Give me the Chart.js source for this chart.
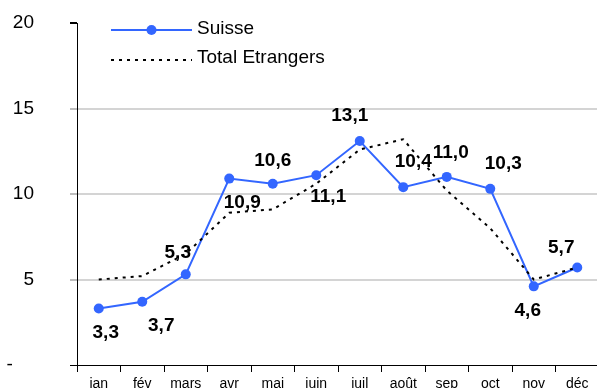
<!DOCTYPE html>
<html>
<head>
<meta charset="utf-8">
<script src="https://cdn.jsdelivr.net/npm/chart.js@4/dist/chart.umd.min.js"></script>
<style>
  html, body { margin: 0; padding: 0; background: #fff; overflow: hidden; }
  canvas { display: block; }
</style>
</head>
<body>
<canvas id="chart" width="604" height="388"></canvas>
<script>
const months = ['jan', 'fév', 'mars', 'avr', 'mai', 'juin', 'juil', 'août', 'sep', 'oct', 'nov', 'déc'];
const suisse = [3.3, 3.7, 5.3, 10.9, 10.6, 11.1, 13.1, 10.4, 11.0, 10.3, 4.6, 5.7];
const etrangers = [5.0, 5.2, 6.5, 8.9, 9.1, 10.6, 12.6, 13.2, 10.2, 8.0, 5.0, 5.7];
const seriesNames = ['Suisse', 'Total Etrangers'];

// where each value label sits relative to its marker (dx, dy in px)
const labelOffsets = [[7, 24], [19, 24], [-8, -22], [13, 24], [0, -23], [12, 22],
                      [-10, -25], [10, -25], [4, -24], [13, -25], [-6, 24], [-16, -20]];

const FONT = "'Liberation Sans', Arial, sans-serif";
const BLUE = '#3366ff';

// bold value labels on the Suisse series
const valueLabels = {
    id: 'valueLabels',
    afterDatasetsDraw(chart) {
        const ctx = chart.ctx;
        const meta = chart.getDatasetMeta(0);
        const data = chart.data.datasets[0].data;
        ctx.save();
        ctx.font = 'bold 19px ' + FONT;
        ctx.fillStyle = '#000';
        ctx.textAlign = 'center';
        ctx.textBaseline = 'middle';
        meta.data.forEach((pt, i) => {
            const off = labelOffsets[i];
            ctx.fillText(data[i].toFixed(1).replace('.', ','), pt.x + off[0], pt.y + off[1]);
        });
        ctx.restore();
    }
};

// legend drawn by hand: line with a marker in the middle, dotted line
const lineLegend = {
    id: 'lineLegend',
    afterDraw(chart) {
        const ctx = chart.ctx;
        const x0 = 111, x1 = 192, tx = 197;
        ctx.save();
        ctx.font = '19px ' + FONT;
        ctx.textBaseline = 'middle';

        ctx.strokeStyle = BLUE;
        ctx.lineWidth = 2;
        ctx.beginPath(); ctx.moveTo(x0, 30); ctx.lineTo(x1, 30); ctx.stroke();
        ctx.fillStyle = BLUE;
        ctx.beginPath(); ctx.arc((x0 + x1) / 2, 30, 5, 0, Math.PI * 2); ctx.fill();
        ctx.fillStyle = '#000';
        ctx.fillText(seriesNames[0], tx, 29);

        ctx.strokeStyle = '#000';
        ctx.setLineDash([3, 5]);
        ctx.beginPath(); ctx.moveTo(x0, 60); ctx.lineTo(x1, 60); ctx.stroke();
        ctx.setLineDash([]);
        ctx.fillText(seriesNames[1], tx, 58);
        ctx.restore();
    }
};

new Chart(document.getElementById('chart'), {
    type: 'line',
    data: {
        labels: months,
        datasets: [{
            label: seriesNames[0],
            data: suisse,
            borderColor: BLUE,
            backgroundColor: BLUE,
            borderWidth: 2,
            pointRadius: 5,
            pointBorderWidth: 0,
            pointBackgroundColor: BLUE,
            tension: 0,
            order: 2
        }, {
            label: seriesNames[1],
            data: etrangers,
            borderColor: '#000',
            borderWidth: 2,
            borderDash: [3, 5],
            pointRadius: 0,
            tension: 0,
            order: 1
        }]
    },
    options: {
        responsive: false,
        animation: false,
        layout: { padding: { top: 23, left: 0, right: 0, bottom: 0 } },
        plugins: {
            legend: { display: false },
            tooltip: { enabled: false }
        },
        scales: {
            x: {
                offset: true,
                afterFit(scale) { scale.height = 23; },
                grid: {
                    offset: true,
                    drawOnChartArea: false,
                    tickLength: 7,
                    tickColor: '#000'
                },
                border: { color: '#000', width: 1 },
                ticks: {
                    color: '#000',
                    font: { family: FONT, size: 14 },
                    padding: 4,
                    maxRotation: 0,
                    autoSkip: false
                }
            },
            y: {
                min: 0,
                max: 20,
                // fixed axis width; drop the extra room the wide label padding would reserve
                afterFit(scale) {
                    scale.width = 77;
                    scale.paddingTop = 0;
                    scale.paddingBottom = 0;
                },
                grid: {
                    color: c => c.tick.value === 20 ? 'rgba(0,0,0,0)' : (c.tick.value === 0 ? '#000' : '#d4d4d4'),
                    tickColor: c => (c.tick.value === 20 || c.tick.value === 0) ? '#000' : '#bdbdbd',
                    lineWidth: c => c.tick.value === 0 ? 1 : 2,
                    tickLength: 7
                },
                border: { color: '#000', width: 1 },
                ticks: {
                    stepSize: 5,
                    color: '#000',
                    padding: 36,
                    font: { family: FONT, size: 19 },
                    callback: v => v === 0 ? '-    ' : v
                }
            }
        }
    },
    plugins: [valueLabels, lineLegend]
});
</script>
</body>
</html>
